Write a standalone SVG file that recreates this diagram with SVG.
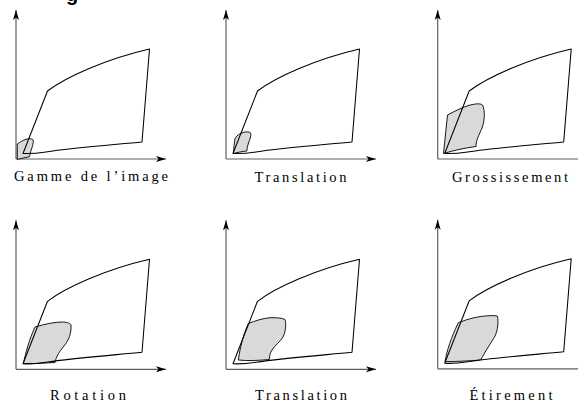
<svg xmlns="http://www.w3.org/2000/svg" xmlns:xlink="http://www.w3.org/1999/xlink" width="578" height="404" viewBox="0 0 578 404">
<style>
.axis{fill:none;stroke:#5f5f5f;stroke-width:1.2;marker-end:url(#ah)}
.gamut{fill:none;stroke:#000;stroke-width:1.05;stroke-linejoin:round}
.blob{fill:#d9d9d9;stroke:#000;stroke-width:0.9;stroke-linejoin:round}
.lbl{font-family:"Liberation Serif","DejaVu Serif",serif;font-size:14.5px;fill:#000;text-anchor:middle}
.title{font-family:"Liberation Sans",Arial,sans-serif;font-size:20px;font-weight:bold;fill:#000}
</style>
<defs>
<marker id="ah" markerUnits="userSpaceOnUse" markerWidth="12" markerHeight="8" viewBox="0 -4 11 8" refX="10" refY="0" orient="auto">
<path d="M10,0 L0,-3 L2.5,0 L0,3 Z" fill="#000"/>
</marker>
<g id="frame">
<path class="axis" d="M0,0 L0,-149"/>
<path class="axis" d="M0,0 L150,0"/>
</g>
<path id="gam" class="gamut" d="M7,-5.5 L31.5,-68 C50,-82 90,-100 133.5,-110 L126,-17 C95,-14 55,-11 30,-7 C20,-5.5 12,-5.3 7,-5.5 Z"/>
</defs>
<text class="title" x="66" y="1">g</text>

<g id="panel-gamme">
<use xlink:href="#frame" href="#frame" transform="translate(16,159)"/>
<path class="blob" d="M17.3,159.3 L17.3,144 C20,142 23,140.3 26,139.3 C29,138.6 31.5,138.5 32.8,139.5 C34,141 33,144 32.3,146.7 C31.3,150 30,153 29.5,156.7 C25,157.6 21,158.6 17.3,159.3 Z"/>
<use xlink:href="#gam" href="#gam" transform="translate(16,159)"/>
<text class="lbl" x="91" y="181" textLength="154" lengthAdjust="spacing">Gamme de l’image</text>
</g>

<g id="panel-translation-1">
<use xlink:href="#frame" href="#frame" transform="translate(226,159)"/>
<path class="blob" d="M233.3,153.5 C233.8,148 234.3,143 235,138.5 C237,135 240,133.5 243,132.5 C246,131.8 249,131.3 250.7,133 C251.5,136 249.5,140 248.5,143 C247.5,146 247,148.5 246.8,151 C242,151.5 237,152.5 233.3,153.5 Z"/>
<use xlink:href="#gam" href="#gam" transform="translate(226,159)"/>
<text class="lbl" x="300.5" y="182" textLength="92" lengthAdjust="spacing">Translation</text>
</g>

<g id="panel-grossissement">
<use xlink:href="#frame" href="#frame" transform="translate(437.7,159)"/>
<path class="blob" d="M443.5,153.5 L447.5,115 C455,111 463,107 470,105 C475,104 480,103 482.5,105 C485,110 485,120 482,128 C479,135 476,140 476,146.5 C465,148 455,150 443.5,153.5 Z"/>
<use xlink:href="#gam" href="#gam" transform="translate(437.7,159)"/>
<text class="lbl" x="510" y="182" textLength="116" lengthAdjust="spacing">Grossissement</text>
</g>

<g id="panel-rotation">
<use xlink:href="#frame" href="#frame" transform="translate(16,369.3)"/>
<path class="blob" d="M23.3,363.5 C26,352 29,340 35,327 C45,324 55,322 62,322 C66,322 70,323 71,325 C71.5,333 69,340 64,346 C59,352 56,357 55,362.5 C45,363 33,364 23.3,363.5 Z"/>
<use xlink:href="#gam" href="#gam" transform="translate(16,369.3)"/>
<text class="lbl" x="88" y="400" textLength="76" lengthAdjust="spacing">Rotation</text>
</g>

<g id="panel-translation-2">
<use xlink:href="#frame" href="#frame" transform="translate(226,369.3)"/>
<path class="blob" d="M238.3,360 C240,348 243,335 248.3,323.5 C255,321 262,318.5 270,317.7 C276,317.5 282,318 285,319.5 C286.5,324 285.5,332 283,337 C280,342 275,345 272,350 C270,353 269.5,356 269.3,359.5 C258,360.5 248,361 238.3,360 Z"/>
<use xlink:href="#gam" href="#gam" transform="translate(226,369.3)"/>
<text class="lbl" x="301" y="400" textLength="92" lengthAdjust="spacing">Translation</text>
</g>

<g id="panel-etirement">
<use xlink:href="#frame" href="#frame" transform="translate(437.7,368.8)"/>
<path class="blob" d="M445,361.7 C447,350 451,338 458.3,322.7 C468,319 478,316 490,315.7 C493,315.5 496,315.5 497.5,316.2 C498.5,322 498,330 495,336 C491,343 486,350 480.7,360 C470,361 456,361.5 445,361.7 Z"/>
<use xlink:href="#gam" href="#gam" transform="translate(437.7,368.8)"/>
<text class="lbl" x="511" y="400" textLength="83" lengthAdjust="spacing">Étirement</text>
</g>
</svg>
